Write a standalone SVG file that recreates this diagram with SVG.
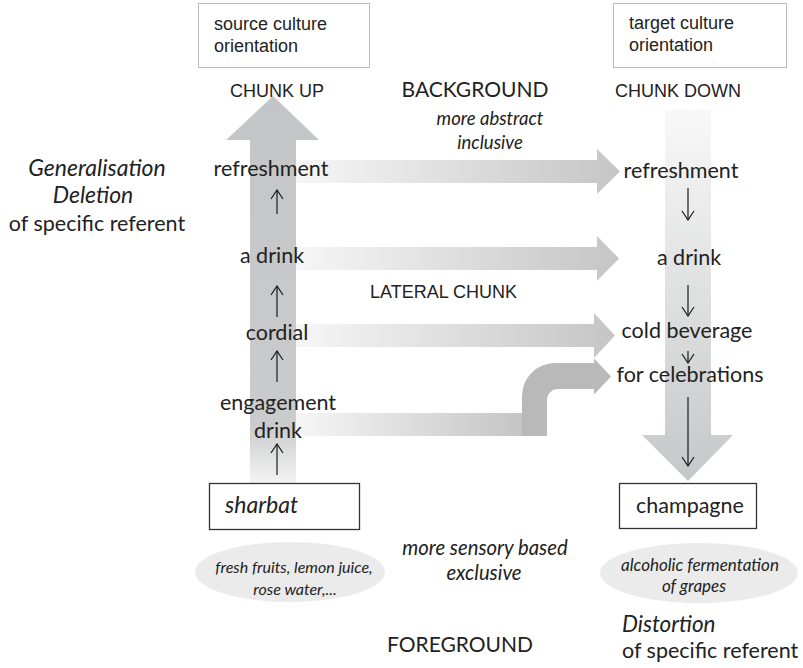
<svg xmlns="http://www.w3.org/2000/svg" width="803" height="668" viewBox="0 0 803 668">
  <defs>
    <linearGradient id="gradLateral" x1="0" y1="0" x2="1" y2="0">
      <stop offset="0" stop-color="#f6f6f6"/>
      <stop offset="1" stop-color="#c5c5c6"/>
    </linearGradient>
    <linearGradient id="gradUp" gradientUnits="userSpaceOnUse" x1="0" y1="96" x2="0" y2="484">
      <stop offset="0" stop-color="#c4c5c6"/>
      <stop offset="0.85" stop-color="#cacbcc"/>
      <stop offset="1" stop-color="#f4f4f4"/>
    </linearGradient>
    <linearGradient id="gradDown" gradientUnits="userSpaceOnUse" x1="0" y1="110" x2="0" y2="482">
      <stop offset="0" stop-color="#f8f8f8"/>
      <stop offset="1" stop-color="#c6c7c8"/>
    </linearGradient>
    <!-- open V head pointing along the line direction -->
    <marker id="thin" viewBox="0 0 12 14" refX="11" refY="7" markerWidth="12" markerHeight="14" markerUnits="userSpaceOnUse" orient="auto">
      <path d="M2,1 L11,7 L2,13" fill="none" stroke="#1a1a1a" stroke-width="1.2"/>
    </marker>
  </defs>
  <style>
    .sans { font-family: "Liberation Sans", Arial, sans-serif; font-size: 18px; fill: #222; }
    .cal { font-family: Lato, "Noto Sans", sans-serif; font-size: 21.5px; fill: #222; }
    .it { font-style: italic; }
    .mid { text-anchor: middle; }
    .step { stroke: #1a1a1a; stroke-width: 1.2; fill: none; }
    .topbox { fill: #fff; stroke: #bdbdbd; stroke-width: 1; }
    .botbox { fill: #fff; stroke: #333; stroke-width: 1.3; }
    .oval { fill: #ebebeb; }
  </style>
  <rect width="803" height="668" fill="#fff"/>

  <!-- big chunking arrows and lateral shifts -->
  <g id="connectors">
    <path id="chunk-up" d="M250,483 L250,140 L226,140 L273,96 L319,140 L296,140 L296,483 Z" fill="url(#gradUp)"/>
    <path id="chunk-down" d="M665,110 L711,110 L711,435 L733,435 L688,481 L642,435 L665,435 Z" fill="url(#gradDown)"/>
    <path id="lat-refreshment" d="M296,160 L597,160 L597,149 L620,171.5 L597,194 L597,183 L296,183 Z" fill="url(#gradLateral)"/>
    <path id="lat-drink" d="M296,247 L597,247 L597,236 L619,258.5 L597,281 L597,270 L296,270 Z" fill="url(#gradLateral)"/>
    <path id="lat-cordial" d="M296,324 L594,324 L594,313 L615,335.5 L594,358 L594,347 L296,347 Z" fill="url(#gradLateral)"/>
    <path id="lat-engagement" d="M296,413 L523,413 L523,436 L296,436 Z" fill="url(#gradLateral)"/>
    <path id="lat-bend" d="M522,436 L522,396 A33,33 0 0 1 555,363 L594,363 L594,358.5 L611,376.5 L594,394.5 L594,389 L558,389 A11,11 0 0 0 547,400 L547,436 Z" fill="#b9b9ba"/>

    <!-- step arrows, source side -->
    <line class="step" x1="277" y1="214" x2="277" y2="190" marker-end="url(#thin)"/>
    <line class="step" x1="277" y1="317" x2="277" y2="286" marker-end="url(#thin)"/>
    <line class="step" x1="277" y1="382" x2="277" y2="351" marker-end="url(#thin)"/>
    <line class="step" x1="277" y1="475" x2="277" y2="444" marker-end="url(#thin)"/>
    <!-- step arrows, target side -->
    <line class="step" x1="688" y1="188" x2="688" y2="220" marker-end="url(#thin)"/>
    <line class="step" x1="688" y1="285" x2="688" y2="316" marker-end="url(#thin)"/>
    <line class="step" x1="688" y1="351" x2="688" y2="363" marker-end="url(#thin)"/>
    <line class="step" x1="688" y1="397" x2="688" y2="466" marker-end="url(#thin)"/>
  </g>

  <g id="source-orientation">
    <rect class="topbox" x="198.5" y="3.5" width="171" height="64"/>
    <text class="sans" x="214" y="30">source culture</text>
    <text class="sans" x="214" y="52">orientation</text>
  </g>
  <g id="target-orientation">
    <rect class="topbox" x="613.5" y="3.5" width="173" height="64"/>
    <text class="sans" x="629" y="29">target culture</text>
    <text class="sans" x="629" y="51">orientation</text>
  </g>

  <g id="chunk-up-label"><text class="sans" x="230" y="97">CHUNK UP</text></g>
  <g id="chunk-down-label"><text class="sans" x="615" y="97">CHUNK DOWN</text></g>
  <g id="background-label"><text class="cal mid" x="475" y="97" style="font-size:21px">BACKGROUND</text></g>
  <g id="abstract-label">
    <text class="cal it mid" x="490" y="125" style="font-size:18.5px">more abstract</text>
    <text class="cal it mid" x="490" y="149" style="font-size:18.5px">inclusive</text>
  </g>
  <g id="lateral-label"><text class="sans" x="370" y="298">LATERAL CHUNK</text></g>

  <g id="generalisation-label">
    <text class="cal it mid" x="97" y="176" style="font-size:23px">Generalisation</text>
    <text class="cal it mid" x="93" y="203" style="font-size:23px">Deletion</text>
    <text class="cal mid" x="97" y="231">of specific referent</text>
  </g>

  <!-- source side chain -->
  <g id="src-refreshment"><text class="cal mid" x="271" y="176">refreshment</text></g>
  <g id="src-drink"><text class="cal mid" x="272" y="263">a drink</text></g>
  <g id="src-cordial"><text class="cal mid" x="277" y="340">cordial</text></g>
  <g id="src-engagement">
    <text class="cal mid" x="278" y="410">engagement</text>
    <text class="cal mid" x="278" y="438">drink</text>
  </g>
  <g id="sharbat">
    <rect class="botbox" x="209.5" y="483.5" width="150" height="46"/>
    <text class="cal it" x="225" y="513" style="font-size:23px">sharbat</text>
  </g>
  <g id="sharbat-ingredients">
    <ellipse class="oval" cx="290" cy="572" rx="95" ry="30"/>
    <text class="cal it mid" x="294" y="573" style="font-size:16px">fresh fruits, lemon juice,</text>
    <text class="cal it mid" x="295" y="595" style="font-size:16px">rose water,...</text>
  </g>

  <!-- target side chain -->
  <g id="tgt-refreshment"><text class="cal mid" x="681" y="178">refreshment</text></g>
  <g id="tgt-drink"><text class="cal mid" x="689" y="265">a drink</text></g>
  <g id="tgt-cold-beverage"><text class="cal mid" x="687" y="338">cold beverage</text></g>
  <g id="tgt-celebrations"><text class="cal mid" x="690" y="382">for celebrations</text></g>
  <g id="champagne">
    <rect class="botbox" x="619.5" y="483.5" width="137" height="45"/>
    <text class="cal" x="636" y="513">champagne</text>
  </g>
  <g id="champagne-process">
    <ellipse class="oval" cx="699" cy="573" rx="99" ry="30"/>
    <text class="cal it mid" x="700" y="571" style="font-size:17px">alcoholic fermentation</text>
    <text class="cal it mid" x="694" y="592" style="font-size:17px">of grapes</text>
  </g>

  <g id="sensory-label">
    <text class="cal it mid" x="485" y="555" style="font-size:20.3px">more sensory based</text>
    <text class="cal it mid" x="484" y="580" style="font-size:20.3px">exclusive</text>
  </g>
  <g id="distortion-label">
    <text class="cal it" x="622" y="632" style="font-size:22.5px">Distortion</text>
    <text class="cal" x="622" y="658">of specific referent</text>
  </g>
  <g id="foreground-label"><text class="cal mid" x="460" y="652" style="font-size:21px">FOREGROUND</text></g>
</svg>
